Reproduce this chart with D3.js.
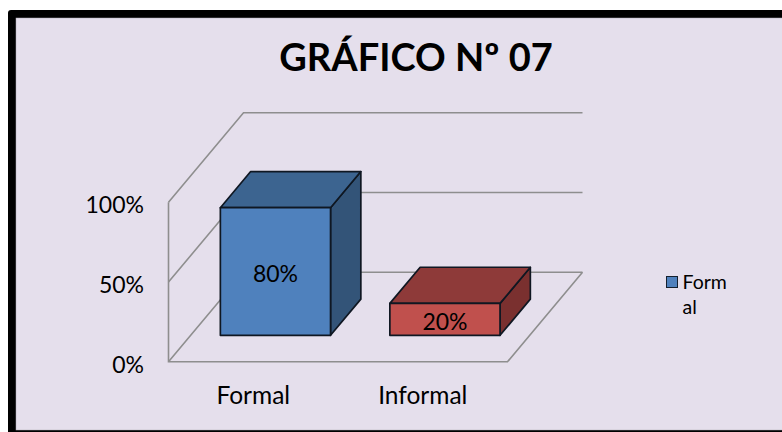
<!DOCTYPE html>
<html>
<head>
<meta charset="utf-8">
<script src="https://cdn.jsdelivr.net/npm/d3@7"></script>
<style>
    html, body { margin: 0; padding: 0; background: #fff; overflow: hidden; }
    svg { display: block; }
    text { font-family: Lato, "Open Sans", sans-serif; fill: #000; }
</style>
</head>
<body>
<div id="chart"></div>
<script>
'use strict';

// Chart data
var categories = ["Formal", "Informal"];
var values = [80, 20];
var valueLabels = ["80%", "20%"];
var yTicks = [0, 50, 100];
var frontColors = ["#4f81bd", "#c0504d"];
var topColors = ["#3c6490", "#8e3a39"];
var sideColors = ["#335478", "#7a302f"];
var legendLines = ["Form", "al"];

var width = 782, height = 432;

var svg = d3.select("#chart").append("svg")
    .attr("width", width)
    .attr("height", height);

// Frame: thick on the top and left, cut off by the picture on the right
svg.append("rect")
    .attr("x", 8).attr("y", 10)
    .attr("width", 790).attr("height", 440)
    .attr("rx", 3)
    .attr("fill", "#000");
svg.append("rect")
    .attr("x", 16).attr("y", 18)
    .attr("width", 780).attr("height", 412)
    .attr("fill", "#e5dfec")
    .attr("stroke", "#b0acb6")
    .attr("stroke-width", 0.5);

svg.append("text")
    .attr("x", 416).attr("y", 70.5)
    .attr("text-anchor", "middle")
    .style("font-size", "38px")
    .style("font-weight", 700)
    .text("GRÁFICO Nº 07");

// Front plane scales
var x = d3.scaleBand()
    .domain(categories)
    .range([168.5, 507.5])
    .paddingInner(0.35)
    .paddingOuter(0.175);

var y = d3.scaleLinear()
    .domain([0, 100])
    .range([361.8, 202.3]);

// Depth scales: 0 is the front of the floor, 1 the back wall
var depthX = d3.scaleLinear().domain([0, 1]).range([0, 75]);
var depthY = d3.scaleLinear().domain([0, 1]).range([0, -89.5]);

var barFront = 0.296, barBack = 0.70;

function pt(px, py, d) {
    return [px + depthX(d), py + depthY(d)];
}

var line = d3.line();

// Walls and gridlines
var grid = svg.append("g")
    .attr("fill", "none")
    .attr("stroke", "#8e8e8e")
    .attr("stroke-width", 1.6);

yTicks.forEach(function(t) {
    grid.append("path").attr("d", line([
        pt(x.range()[0], y(t), 0),
        pt(x.range()[0], y(t), 1),
        pt(x.range()[1], y(t), 1)
    ]));
});
grid.append("path").attr("d", line([
    [x.range()[0], y(100)],
    [x.range()[0], y(0)],
    [x.range()[1], y(0)],
    pt(x.range()[1], y(0), 1)
]));

// Bars
var bars = svg.selectAll("g.bar")
    .data(categories)
    .enter()
    .append("g")
    .attr("class", "bar")
    .attr("stroke", "#0f1722")
    .attr("stroke-width", 1.7)
    .attr("stroke-linejoin", "round");

function x0(d) { return x(d); }
function x1(d) { return x(d) + x.bandwidth(); }
function vTop(i) { return y(values[i]); }

bars.append("path")
    .attr("fill", function(d, i) { return sideColors[i]; })
    .attr("d", function(d, i) {
        return line([
            pt(x1(d), y(0), barFront),
            pt(x1(d), y(0), barBack),
            pt(x1(d), vTop(i), barBack),
            pt(x1(d), vTop(i), barFront)
        ]) + "Z";
    });

bars.append("path")
    .attr("fill", function(d, i) { return topColors[i]; })
    .attr("d", function(d, i) {
        return line([
            pt(x0(d), vTop(i), barFront),
            pt(x0(d), vTop(i), barBack),
            pt(x1(d), vTop(i), barBack),
            pt(x1(d), vTop(i), barFront)
        ]) + "Z";
    });

bars.append("path")
    .attr("fill", function(d, i) { return frontColors[i]; })
    .attr("d", function(d, i) {
        return line([
            pt(x0(d), y(0), barFront),
            pt(x1(d), y(0), barFront),
            pt(x1(d), vTop(i), barFront),
            pt(x0(d), vTop(i), barFront)
        ]) + "Z";
    });

// Value labels, centred on the front faces
bars.append("text")
    .attr("x", function(d) { return pt(x0(d) + x.bandwidth() / 2, 0, barFront)[0]; })
    .attr("y", function(d, i) {
        return pt(0, (y(0) + vTop(i)) / 2, barFront)[1];
    })
    .attr("dy", "0.46em")
    .attr("text-anchor", "middle")
    .attr("stroke", "none")
    .style("font-size", "23px")
    .text(function(d, i) { return valueLabels[i]; });

// Axes
var yAxis = svg.append("g")
    .attr("transform", "translate(150,3)")
    .call(d3.axisLeft(y).tickValues(yTicks).tickSize(0).tickPadding(6)
        .tickFormat(function(d) { return d + "%"; }));
yAxis.select(".domain").remove();
yAxis.selectAll("text").style("font-size", "23px").style("font-family", "Lato, sans-serif").attr("fill", "#000");

var xAxis = svg.append("g")
    .attr("transform", "translate(0,387)")
    .call(d3.axisBottom(x).tickSize(0).tickPadding(0));
xAxis.select(".domain").remove();
xAxis.selectAll("text").style("font-size", "24.5px").style("font-family", "Lato, sans-serif").attr("fill", "#000");

// Legend
svg.append("rect")
    .attr("x", 666.5).attr("y", 276.5)
    .attr("width", 11).attr("height", 11)
    .attr("fill", frontColors[0])
    .attr("stroke", "#14202e")
    .attr("stroke-width", 1);

svg.selectAll("text.legend")
    .data(legendLines)
    .enter()
    .append("text")
    .attr("class", "legend")
    .attr("x", 682.5)
    .attr("y", function(d, i) { return 289 + i * 25; })
    .style("font-size", "19.5px")
    .text(function(d) { return d; });
</script>
</body>
</html>
